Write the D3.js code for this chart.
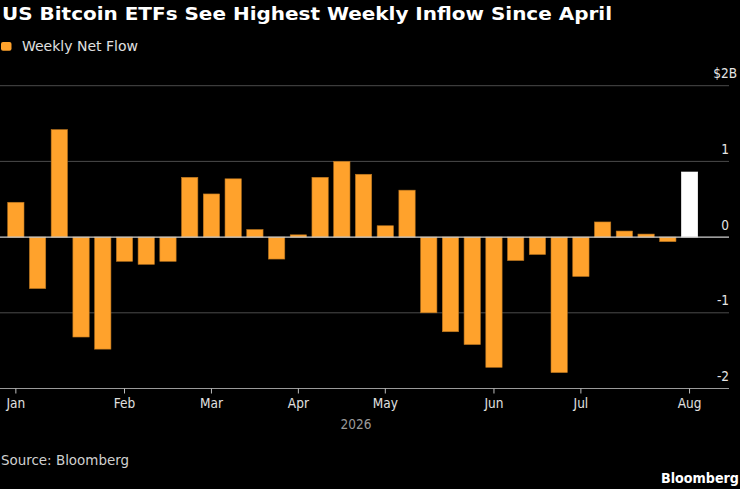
<!DOCTYPE html>
<html>
<head>
<meta charset="utf-8">
<script src="https://cdn.jsdelivr.net/npm/d3@7"></script>
<style>
  html, body { margin: 0; padding: 0; background: #000; }
  svg { display: block; }
  text { font-family: "DejaVu Sans Condensed", "DejaVu Sans", sans-serif; }
</style>
</head>
<body>
<svg id="chart" width="740" height="489"></svg>
<script>
// ---- Data ----
const weeks = [
  "2026-01-02","2026-01-09","2026-01-16","2026-01-23","2026-01-30",
  "2026-02-06","2026-02-13","2026-02-20","2026-02-27",
  "2026-03-06","2026-03-13","2026-03-20","2026-03-27",
  "2026-04-03","2026-04-10","2026-04-17","2026-04-24",
  "2026-05-01","2026-05-08","2026-05-15","2026-05-22","2026-05-29",
  "2026-06-05","2026-06-12","2026-06-19","2026-06-26",
  "2026-07-03","2026-07-10","2026-07-17","2026-07-24","2026-07-31",
  "2026-08-07"
];
const netFlow = [
  0.46, -0.68, 1.42, -1.32, -1.48,
  -0.32, -0.36, -0.32, 0.79,
  0.57, 0.77, 0.10, -0.29,
  0.03, 0.79, 1.00, 0.83,
  0.15, 0.62, -1.00, -1.25, -1.42,
  -1.72, -0.31, -0.23, -1.79,
  -0.52, 0.20, 0.08, 0.04, -0.06,
  0.86
];
const yTicks = [2, 1, 0, -1, -2];
const yTickLabels = ["$2B", "1", "0", "-1", "-2"];
const monthLabels = ["Jan","Feb","Mar","Apr","May","Jun","Jul","Aug"];
const yearLabel = "2026";
const seriesName = "Weekly Net Flow";
const title = "US Bitcoin ETFs See Highest Weekly Inflow Since April";
const source = "Source: Bloomberg";

// ---- Chart ----
const svg = d3.select("#chart");
svg.append("rect").attr("width", 740).attr("height", 489).attr("fill", "#000");

const ORANGE = "#ffa22c";
const x = d3.scaleBand().domain(weeks).range([7.7, 697.7]).paddingInner(0.25).paddingOuter(0);
const y = d3.scaleLinear().domain([-2, 2]).range([388.5, 85.7]);
const gridRight = 729;

// gridlines
svg.append("g").selectAll("line")
  .data(yTicks.filter(d => d !== 0 && d !== -2))
  .join("line")
  .attr("x1", 0).attr("x2", gridRight)
  .attr("y1", d => y(d)).attr("y2", d => y(d))
  .attr("stroke", "#4a4a4a").attr("stroke-width", 1);

// y labels
svg.append("g").selectAll("text")
  .data(yTicks)
  .join("text")
  .attr("x", (d, i) => i === 0 ? 737 : gridRight)
  .attr("y", d => y(d) - 7.5)
  .attr("text-anchor", "end")
  .attr("fill", "#e6e6e6")
  .attr("font-size", 13.5)
  .text((d, i) => yTickLabels[i]);

// bars
const lastIdx = weeks.length - 1;
svg.append("g").selectAll("rect")
  .data(weeks.map((w, i) => ({ w, v: netFlow[i], i })))
  .join("rect")
  .attr("x", d => x(d.w))
  .attr("width", x.bandwidth())
  .attr("y", d => Math.min(y(0), y(d.v)))
  .attr("height", d => Math.abs(y(d.v) - y(0)))
  .attr("fill", d => d.i === lastIdx ? "#ffffff" : ORANGE)
  .attr("stroke", d => d.i === lastIdx ? "#ffffff" : "#b8741f")
  .attr("stroke-width", 0.6);

// zero line
svg.append("line")
  .attr("x1", 0).attr("x2", gridRight)
  .attr("y1", y(0)).attr("y2", y(0))
  .attr("stroke", "#d0d0d0").attr("stroke-width", 1.2);

// bottom axis
const parse = d3.timeParse("%Y-%m-%d");
const monthFirst = [];
weeks.forEach((w, i) => {
  const m = parse(w).getMonth();
  if (i === 0 || parse(weeks[i - 1]).getMonth() !== m) monthFirst.push(w);
});
const axisG = svg.append("g").attr("transform", `translate(0,${y(-2)})`);
axisG.append("line").attr("x1", 0).attr("x2", gridRight)
  .attr("stroke", "#9a9a9a").attr("stroke-width", 1);
axisG.call(g => {
  const ax = d3.axisBottom(x).tickValues(monthFirst)
    .tickFormat((d) => monthLabels[parse(d).getMonth()])
    .tickSize(5).tickPadding(5);
  const inner = g.append("g").call(ax);
  inner.select(".domain").remove();
  inner.selectAll(".tick line").attr("stroke", "#bdbdbd");
  inner.selectAll(".tick text")
    .attr("fill", "#e0e0e0")
    .attr("font-size", 13.5)
    .attr("font-family", '"DejaVu Sans Condensed", "DejaVu Sans", sans-serif');
});

svg.append("text")
  .attr("x", 356).attr("y", 429)
  .attr("text-anchor", "middle")
  .attr("fill", "#9a9a9a")
  .attr("font-size", 13.5)
  .text(yearLabel);

// title
svg.append("text")
  .attr("x", 2).attr("y", 19.5)
  .attr("fill", "#ffffff")
  .attr("font-weight", "bold")
  .attr("font-size", 17.5)
  .attr("textLength", 610).attr("lengthAdjust", "spacingAndGlyphs")
  .text(title);

// legend
svg.append("rect")
  .attr("x", 1).attr("y", 42).attr("width", 10.5).attr("height", 8.7)
  .attr("rx", 2).attr("fill", ORANGE);
svg.append("text")
  .attr("x", 22).attr("y", 50.7)
  .attr("fill", "#e0e0e0")
  .attr("font-size", 14)
  .attr("textLength", 116).attr("lengthAdjust", "spacingAndGlyphs")
  .text(seriesName);

// source
svg.append("text")
  .attr("x", 1).attr("y", 465)
  .attr("fill", "#d0d0d0")
  .attr("font-size", 14.5)
  .attr("textLength", 128).attr("lengthAdjust", "spacingAndGlyphs")
  .text(source);

svg.append("text")
  .attr("x", 739).attr("y", 483)
  .attr("text-anchor", "end")
  .attr("fill", "#ffffff")
  .attr("font-weight", "bold")
  .attr("font-size", 14.5)
  .attr("textLength", 78).attr("lengthAdjust", "spacingAndGlyphs")
  .text("Bloomberg");
</script>
</body>
</html>
